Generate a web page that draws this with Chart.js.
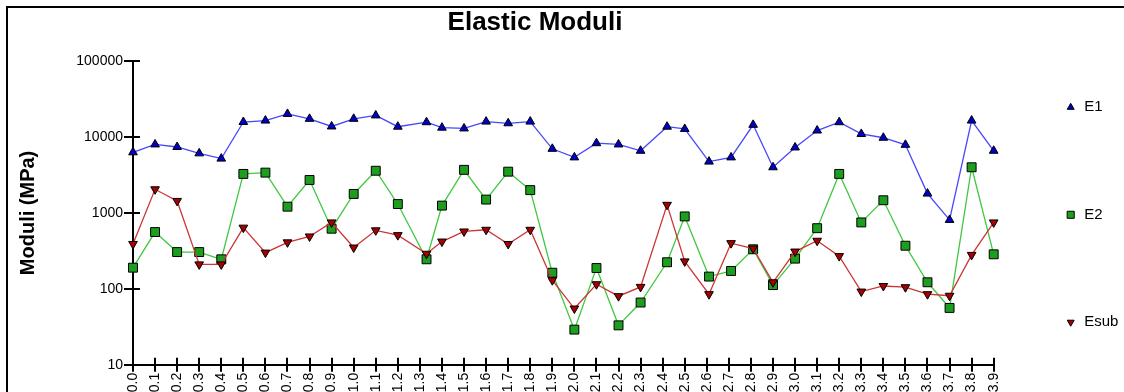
<!DOCTYPE html>
<html>
<head>
<meta charset="utf-8">
<title>Elastic Moduli</title>
<script src="https://cdn.jsdelivr.net/npm/chart.js@4.4.1/dist/chart.umd.min.js"></script>
<style>
  html, body { margin: 0; padding: 0; background: #fff; overflow: hidden; }
  #wrap { position: relative; width: 1124px; height: 392px; overflow: hidden; }
  #frame { position: absolute; left: 6px; top: 6px; width: 1200px; height: 500px; border: 2px solid #000; }
  #c { position: absolute; left: 0; top: 0; }
</style>
</head>
<body>
<div id="wrap">
  <div id="frame"></div>
  <canvas id="c" width="1124" height="392"></canvas>
</div>
<script>
// Elastic moduli per depth sample, log scale.

const depth = [0.0, 0.1, 0.2, 0.3, 0.4, 0.5, 0.6, 0.7, 0.8, 0.9, 1.0, 1.1, 1.2, 1.33, 1.4, 1.5, 1.6, 1.7, 1.8, 1.9,
  2.0, 2.1, 2.2, 2.3, 2.42, 2.5, 2.61, 2.71, 2.81, 2.9, 3.0, 3.1, 3.2, 3.3, 3.4, 3.5, 3.6, 3.7, 3.8, 3.9];

const tickLabels = ["0.0", "0.1", "0.2", "0.3", "0.4", "0.5", "0.6", "0.7", "0.8", "0.9",
  "1.0", "1.1", "1.2", "1.3", "1.4", "1.5", "1.6", "1.7", "1.8", "1.9",
  "2.0", "2.1", "2.2", "2.3", "2.4", "2.5", "2.6", "2.7", "2.8", "2.9",
  "3.0", "3.1", "3.2", "3.3", "3.4", "3.5", "3.6", "3.7", "3.8", "3.9"];

const yTicks = [10, 100, 1000, 10000, 100000];

const e1 = [6300, 8000, 7400, 6100, 5200, 15800, 16500, 20200, 17400, 13800, 17400, 19300, 13700, 15700, 13300, 13000,
  16000, 15200, 16000, 7000, 5400, 8300, 8000, 6600, 13700, 12800, 4750, 5400, 14500, 4000, 7300, 12200, 15700,
  11000, 9800, 7900, 1800, 810, 16500, 6600];

const e2 = [190, 560, 305, 305, 245, 3270, 3400, 1210, 2720, 620, 1780, 3600, 1310, 245, 1250, 3700, 1500, 3500,
  2000, 163, 29, 188, 33, 66, 224, 900, 145, 172, 332, 112, 250, 630, 3270, 750, 1470, 370, 122, 56, 4000, 285];

const esub = [390, 2050, 1440, 210, 210, 640, 300, 410, 490, 750, 350, 590, 510, 290, 420, 570, 600, 390, 600, 130,
  55, 115, 80, 106, 1280, 230, 85, 400, 340, 122, 310, 430, 270, 92, 109, 105, 85, 81, 280, 750];

const FONT = "Arial, 'Liberation Sans', sans-serif";

const toPoints = (vals) => vals.map((v, i) => ({ x: depth[i], y: v }));

function series(label, vals, line, fill, style, rot, radius, order) {
  return {
    label, data: toPoints(vals), order,
    borderColor: line, borderWidth: 1.3, tension: 0,
    pointStyle: style, pointRotation: rot, pointRadius: radius, pointHoverRadius: radius,
    pointBackgroundColor: fill, pointBorderColor: "#000", pointBorderWidth: 1,
    clip: false
  };
}

// title sits left of the plot centre in the original
const shiftTitle = {
  id: "shiftTitle",
  afterLayout(chart) {
    const t = chart.titleBlock;
    if (!t) return;
    t.left = 0;
    t.right = 1070;
    t.width = 1070;
  }
};

// short tick marks on the inner side of both axes
const innerTicks = {
  id: "innerTicks",
  beforeDatasetsDraw(chart) {
    const { ctx, chartArea: a, scales: { x, y } } = chart;
    ctx.save();
    ctx.strokeStyle = "#000";
    ctx.lineWidth = 2;
    ctx.beginPath();
    x.ticks.forEach(t => {
      const px = Math.round(x.getPixelForValue(t.value));
      ctx.moveTo(px, a.bottom);
      ctx.lineTo(px, a.bottom - 7);
    });
    y.ticks.forEach(t => {
      const py = Math.round(y.getPixelForValue(t.value));
      ctx.moveTo(a.left, py);
      ctx.lineTo(a.left + 7, py);
    });
    ctx.stroke();
    ctx.restore();
  }
};

// legend spread along the right side
const sideLegend = {
  id: "sideLegend",
  afterDraw(chart) {
    const { ctx, chartArea: a } = chart;
    ctx.save();
    chart.data.datasets.forEach((ds, i) => {
      const cx = a.right + 77;
      const cy = a.top + a.height * (0.152 + 0.354 * i);
      ctx.fillStyle = ds.pointBackgroundColor;
      ctx.strokeStyle = "#000";
      ctx.lineWidth = 1;
      const r = ds.pointStyle === "rect" ? 5 : 4;
      Chart.helpers.drawPoint(ctx, { pointStyle: ds.pointStyle, rotation: ds.pointRotation, radius: r, borderWidth: 1 }, cx, cy);
      ctx.fillStyle = "#000";
      ctx.font = "15px " + FONT;
      ctx.textAlign = "left";
      ctx.textBaseline = "middle";
      ctx.fillText(ds.label, cx + 13.5, cy);
    });
    ctx.restore();
  }
};

new Chart(document.getElementById("c"), {
  type: "line",
  data: {
    datasets: [
      series("E1", e1, "#4646ff", "#0000c8", "triangle", 0, 5, 2),
      series("E2", e2, "#3fc83f", "#1e9e1e", "rect", 0, 6.3, 1),
      series("Esub", esub, "#cc3535", "#a80000", "triangle", 180, 5, 0)
    ]
  },
  options: {
    responsive: false,
    animation: false,
    layout: { padding: { left: 0, right: 130.3, top: 0, bottom: 0 } },
    plugins: {
      legend: { display: false },
      tooltip: { enabled: false },
      title: {
        display: true, text: "Elastic Moduli", color: "#000",
        font: { family: FONT, size: 26, weight: "bold" },
        padding: { top: 7, bottom: 23 }
      }
    },
    scales: {
      x: {
        type: "linear", min: 0, max: 3.9,
        afterBuildTicks: s => { s.ticks = tickLabels.map(t => ({ value: parseFloat(t) })); },
        afterFit: s => { s.height = 27.3; },
        ticks: {
          autoSkip: false, minRotation: 90, maxRotation: 90, padding: 1, color: "#000",
          font: { family: FONT, size: 14 },
          callback: (v, i) => tickLabels[i]
        },
        grid: { drawOnChartArea: false, tickLength: 7, color: "#000", lineWidth: 2 },
        border: { color: "#000", width: 2 }
      },
      y: {
        type: "logarithmic", min: 10, max: 100000,
        afterBuildTicks: s => { s.ticks = yTicks.map(v => ({ value: v })); },
        afterFit: s => { s.width = 133; },
        ticks: {
          padding: 1, color: "#000",
          font: { family: FONT, size: 14 },
          callback: v => String(v)
        },
        grid: { drawOnChartArea: false, tickLength: 9, color: "#000", lineWidth: 2 },
        border: { color: "#000", width: 2 },
        title: {
          display: true, text: "Moduli (MPa)", color: "#000",
          font: { family: FONT, size: 20, weight: "bold" },
          padding: { top: 16.5, bottom: 0 }
        }
      }
    }
  },
  plugins: [shiftTitle, innerTicks, sideLegend]
});
</script>
</body>
</html>
